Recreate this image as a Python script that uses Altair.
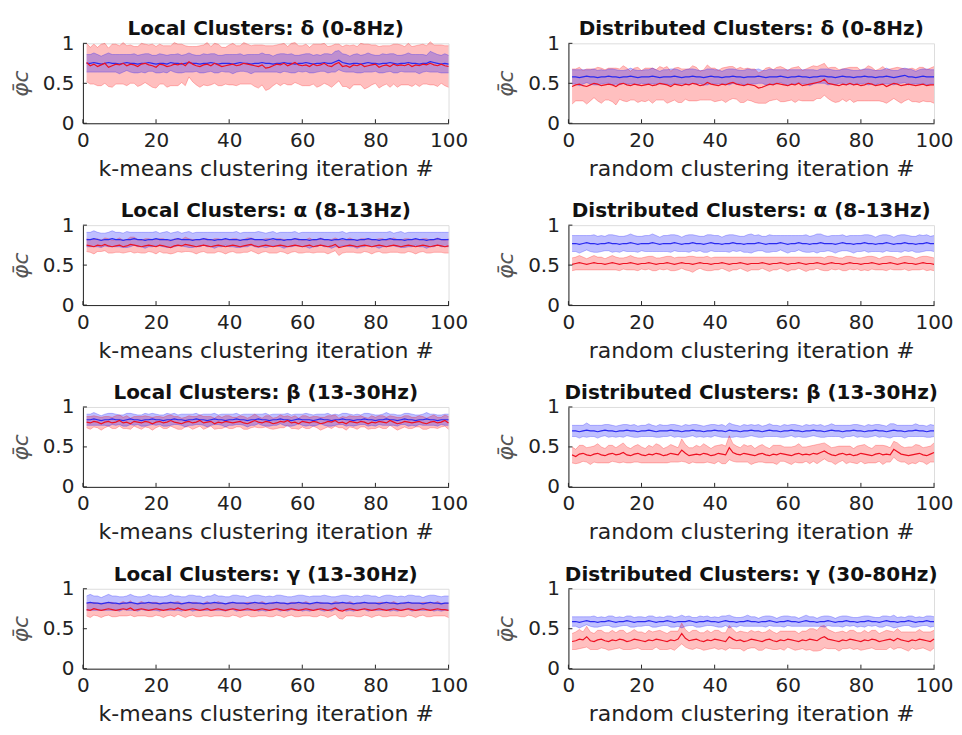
import altair as alt
import pandas as pd

FONT = "DejaVu Sans"
RED = "#ff0000"
BLUE = "#0000ff"
RED_LINE = "#ee1122"
BLUE_LINE = "#2a2af0"

iterations = list(range(1, 101))
x_ticks = [0, 20, 40, 60, 80, 100]
y_ticks = [0, 0.5, 1]

titles = [
    "Local Clusters: δ (0-8Hz)", "Distributed Clusters: δ (0-8Hz)",
    "Local Clusters: α (8-13Hz)", "Distributed Clusters: α (8-13Hz)",
    "Local Clusters: β (13-30Hz)", "Distributed Clusters: β (13-30Hz)",
    "Local Clusters: γ (13-30Hz)", "Distributed Clusters: γ (30-80Hz)",
]
x_titles = ["k-means clustering iteration #", "random clustering iteration #"]
y_title = "φ̄c"

# values in hundredths: mean (m) and standard deviation (s) per iteration
# ---- Local delta
red_m_ld = [76,72,74,71,73,75,70,72,74,73, 75,72,74,73,71,74,75,73,72,70, 74,73,71,72,74,73,75,72,77,74, 72,71,73,74,72,75,73,71,72,73, 74,72,73,75,74,73,72,71,73,69, 70,72,74,73,75,72,74,76,73,72, 73,71,74,72,73,75,72,71,74,76, 71,72,70,73,72,74,71,72,73,74, 70,72,73,71,74,72,73,72,74,71, 73,72,74,73,75,73,72,74,72,71]
red_s_ld = [24,23,25,24,26,25,24,27,25,24, 26,25,24,23,25,26,24,25,27,26, 25,24,26,25,27,26,24,25,19,22, 24,26,25,27,24,25,26,24,23,25, 26,25,24,26,25,24,26,27,25,28, 27,25,24,26,25,24,26,25,24,25, 26,24,25,27,26,25,24,26,25,23, 25,26,27,25,24,26,28,27,25,24, 26,25,24,26,25,27,25,24,26,25, 24,26,25,24,27,25,26,24,25,26]
blue_m_ld = [75,75,76,75,74,75,76,75,75,74, 75,76,75,75,74,75,75,76,75,74, 75,75,74,76,75,75,74,75,76,75, 75,74,75,75,76,75,74,75,75,75, 74,75,76,75,75,74,75,75,76,75, 75,74,75,75,76,75,75,74,75,75, 76,75,74,75,75,76,75,75,77,79, 76,75,74,75,75,74,75,76,75,75, 74,75,75,76,75,74,75,75,76,75, 75,74,75,75,77,76,75,74,75,74]
blue_s_ld = [11,11,12,11,10,11,12,11,11,12, 11,10,11,12,11,11,12,11,10,11, 12,11,11,10,11,12,11,11,12,11, 10,11,12,11,11,12,11,10,11,11, 12,11,11,10,11,12,11,11,12,11, 11,10,11,12,11,11,12,11,10,11, 11,12,11,11,10,11,12,11,13,12, 11,11,10,11,12,11,11,12,11,10, 11,12,11,11,12,11,10,11,12,11, 11,12,11,10,13,12,11,11,12,11]
# ---- Distributed delta
red_m_dd = [46,48,49,47,46,48,50,49,47,48, 49,48,46,49,50,48,47,49,48,47, 48,49,47,48,50,49,48,46,49,48, 47,49,48,50,49,47,48,51,49,48, 47,49,48,50,51,49,48,47,49,48, 47,44,45,47,49,48,50,49,48,47, 49,48,50,47,48,49,50,51,52,55, 50,49,48,47,49,48,50,48,49,47, 48,50,49,47,48,49,46,48,50,49, 47,48,49,48,47,48,49,47,48,48]
red_s_dd = [22,20,21,19,22,20,18,21,22,19, 20,21,23,19,22,21,18,20,22,19, 21,20,22,19,21,20,23,19,20,22, 21,19,20,22,21,18,19,22,20,21, 19,20,22,21,20,19,22,21,20,20, 21,19,20,22,21,19,20,22,21,19, 20,22,21,19,20,21,22,20,21,20, 19,21,22,20,19,21,20,22,21,19, 20,22,21,19,20,22,21,20,19,21, 22,20,19,21,20,22,21,20,21,23]
blue_m_dd = [58,58,57,58,59,58,58,57,58,58, 59,58,58,57,58,58,59,58,57,58, 58,58,59,58,57,58,58,58,59,58, 57,58,58,59,58,58,57,58,59,58, 58,57,58,58,59,58,58,57,58,58, 58,59,58,57,58,58,58,59,58,57, 58,58,59,58,58,57,58,58,59,59, 58,58,57,58,59,58,58,57,58,58, 59,58,58,57,58,58,59,58,57,58, 59,60,58,58,57,58,59,58,58,58]
blue_s_dd = [9,9,10,9,8,9,10,9,9,8, 9,10,9,9,8,9,10,9,9,8, 9,9,10,9,8,9,9,10,9,9, 8,9,10,9,9,8,9,10,9,9, 9,8,9,10,9,9,8,9,10,9, 9,9,8,9,10,9,9,8,9,10, 9,9,8,9,9,10,9,8,9,9, 10,9,9,8,9,10,9,9,8,9, 9,10,9,9,8,9,10,9,9,8, 9,9,10,9,8,9,9,10,9,9]
# ---- Local alpha
red_m_la = [75,74,73,75,74,76,74,73,74,75, 73,74,76,75,74,73,74,75,74,73, 75,74,73,72,74,75,74,76,75,74, 73,74,75,74,73,74,75,74,73,74, 75,74,73,74,75,76,74,73,74,75, 74,73,74,75,74,73,74,75,74,73, 74,75,73,74,75,74,73,74,76,72, 73,74,75,74,73,74,75,74,73,74, 75,74,73,74,75,74,73,74,75,74, 73,74,75,74,73,74,75,74,73,74]
red_s_la = [8,8,9,8,7,8,9,8,8,9, 8,8,9,10,8,8,9,8,8,9, 8,9,8,8,9,8,8,9,8,8, 9,8,8,9,8,9,8,8,9,8, 8,9,8,8,9,8,8,9,8,8, 9,8,9,8,8,9,8,8,9,8, 8,9,8,8,9,8,9,8,8,10, 8,8,9,8,8,9,8,8,9,8, 8,9,8,8,9,8,8,9,8,8, 9,8,8,9,8,8,9,8,8,9]
blue_m_la = [82,82,83,82,81,82,82,83,82,82, 81,82,82,83,82,82,81,82,82,83, 82,82,82,81,82,83,82,82,82,81, 82,82,83,82,82,81,82,82,83,82, 82,82,81,82,82,83,82,82,82,81, 82,83,82,82,81,82,82,83,82,82, 82,81,82,82,83,82,82,81,82,82, 83,82,82,82,81,82,82,83,82,82, 81,82,82,83,82,82,82,81,82,82, 83,82,82,81,82,82,83,82,82,82]
blue_s_la = [9,9,10,9,9,8,9,10,9,9, 9,10,9,8,9,9,10,9,9,9, 8,9,10,9,9,9,8,9,10,9, 9,9,8,9,9,10,9,9,8,9, 9,10,9,9,9,8,9,10,9,9, 9,9,8,9,10,9,9,9,8,9, 9,10,9,9,8,9,9,10,9,9, 9,8,9,9,10,9,9,8,9,9, 10,9,9,9,8,9,10,9,9,9, 8,9,9,10,9,9,8,9,9,9]
# ---- Distributed alpha
red_m_da = [51,52,53,52,51,52,53,52,52,51, 52,53,52,51,52,52,53,52,51,52, 52,53,52,51,52,52,53,52,51,52, 53,52,52,51,52,53,52,52,51,52, 52,53,52,51,52,52,53,52,51,52, 52,52,53,52,51,52,52,53,52,51, 52,52,53,52,51,52,52,53,52,51, 52,53,52,52,51,52,53,52,52,51, 52,52,53,52,51,52,52,53,52,51, 52,53,52,52,51,52,53,52,52,51]
red_s_da = [8,8,9,8,7,8,9,8,8,7, 8,9,8,8,7,8,9,8,8,7, 8,8,9,8,7,8,8,9,8,8, 7,8,9,10,8,7,8,9,8,8, 8,7,8,9,8,8,7,8,9,8, 8,8,7,8,9,8,8,7,8,9, 8,8,7,8,9,8,8,7,8,8, 9,8,8,7,8,9,8,8,7,8, 8,9,8,8,7,8,9,8,8,7, 8,8,9,8,7,8,8,9,8,8]
blue_m_da = [77,77,76,77,78,77,77,76,77,77, 78,77,77,76,77,77,78,77,76,77, 77,77,78,77,76,77,77,77,78,77, 76,77,77,78,77,77,76,77,78,77, 77,76,77,77,78,77,77,76,77,77, 77,78,77,76,77,77,77,78,77,76, 77,77,78,77,77,76,77,77,78,77, 77,77,76,77,78,77,77,76,77,77, 78,77,77,76,77,77,78,77,76,77, 77,78,77,77,76,77,77,78,77,77]
blue_s_da = [10,10,11,10,9,10,11,10,10,9, 10,11,10,10,9,10,11,10,10,9, 10,10,11,10,9,10,10,11,10,10, 9,10,11,10,10,9,10,11,10,10, 10,9,10,11,10,10,9,10,11,12, 10,10,9,10,11,10,10,9,10,11, 10,10,9,10,11,10,10,12,11,10, 9,10,11,10,10,9,10,11,10,10, 10,11,10,9,10,11,10,10,9,10, 11,10,10,9,10,11,10,10,9,10]
# ---- Local beta
red_m_lb = [81,80,82,81,79,81,82,80,81,83, 80,81,79,82,81,80,82,81,79,81, 82,80,81,83,81,80,79,81,82,80, 81,83,80,81,82,79,81,80,82,81, 80,81,82,80,79,81,83,81,80,82, 81,79,80,82,81,83,80,81,79,82, 81,80,82,81,79,80,82,81,83,80, 81,79,82,81,80,82,81,79,81,80, 82,81,80,83,81,79,80,82,81,80, 81,82,80,79,81,82,80,81,83,80]
red_s_lb = [7,8,7,7,8,7,6,7,8,7, 7,8,7,6,7,8,7,7,8,7, 6,7,8,7,7,8,7,6,7,8, 7,7,8,7,6,7,8,7,7,8, 7,6,7,8,7,7,8,7,6,7, 8,7,7,8,7,6,7,8,7,7, 8,7,6,7,8,7,7,8,7,6, 7,8,7,7,8,7,6,7,8,7, 7,8,7,6,7,8,7,7,8,7, 6,7,8,7,7,8,7,6,7,8]
blue_m_lb = [84,84,85,84,83,84,84,85,84,84, 83,84,85,84,84,83,84,84,85,84, 84,83,84,84,85,84,84,83,84,84, 85,84,84,83,84,85,84,84,83,84, 84,85,84,84,83,84,84,85,84,84, 83,84,84,85,84,84,83,84,85,84, 84,84,83,84,85,84,84,83,84,84, 85,84,84,83,84,84,85,84,84,83, 84,84,85,84,84,83,84,85,84,84, 83,84,84,85,84,84,83,84,84,84]
blue_s_lb = [7,7,8,7,6,7,8,7,7,6, 7,8,7,7,6,7,8,7,7,7, 6,7,8,7,7,6,7,8,7,7, 7,6,7,8,7,7,6,7,8,7, 7,7,6,7,8,7,7,6,7,8, 7,7,7,6,7,8,7,7,6,7, 8,7,7,7,6,7,8,7,7,6, 7,8,7,7,7,6,7,8,7,7, 6,7,8,7,7,7,6,7,8,7, 7,6,7,8,7,7,7,6,7,7]
# ---- Distributed beta
red_m_db = [40,38,41,42,40,39,41,42,40,39, 41,42,40,41,43,40,39,41,42,40, 39,41,40,42,41,39,40,42,41,40, 46,42,39,40,41,40,42,41,39,40, 42,41,40,49,43,41,40,42,41,40, 39,41,42,40,39,41,40,42,41,40, 39,41,42,40,41,40,42,41,43,45, 42,40,39,41,42,40,41,39,40,42, 41,40,39,41,42,40,41,40,47,44, 41,40,39,40,41,42,40,39,41,43]
red_s_db = [10,9,11,10,9,11,10,12,10,9, 11,10,9,11,12,10,9,10,11,10, 9,11,10,12,11,9,10,11,10,9, 14,11,10,9,11,10,12,10,9,11, 10,12,11,15,11,10,9,11,10,12, 9,10,11,10,9,11,12,10,9,10, 11,10,12,10,9,11,10,12,11,10, 10,9,11,10,9,11,10,9,11,10, 12,10,9,11,10,12,10,9,10,11, 10,9,11,10,12,10,9,11,10,12]
blue_m_db = [70,70,69,70,71,70,70,69,70,71, 70,70,69,70,70,71,70,70,69,70, 70,71,70,69,70,70,70,71,70,70, 69,70,70,71,70,70,69,70,70,71, 70,70,69,71,70,70,69,70,70,71, 70,70,69,70,71,70,70,69,70,70, 71,70,70,69,70,70,71,70,70,69, 70,71,70,70,69,70,70,71,70,70, 69,70,70,71,70,70,69,70,71,70, 70,69,70,70,71,70,70,69,70,70]
blue_s_db = [7,7,8,7,9,7,7,8,7,7, 8,7,7,7,8,7,7,8,7,7, 7,8,7,7,8,7,7,7,8,7, 7,8,7,7,8,7,7,7,8,7, 7,8,7,9,8,7,7,8,7,7, 7,8,7,7,8,7,7,7,8,7, 7,8,7,7,8,7,7,7,8,7, 7,8,7,7,8,7,7,7,8,7, 7,8,7,7,8,7,7,9,8,7, 7,8,7,7,8,7,7,7,8,7]
# ---- Local gamma
red_m_lg = [74,73,75,74,73,74,75,74,73,74, 75,74,76,73,74,75,74,73,74,75, 74,73,74,75,74,76,74,73,74,75, 74,73,74,75,73,74,75,74,73,74, 75,74,73,74,75,74,73,74,75,74, 73,74,75,74,73,74,75,74,73,74, 75,74,73,74,75,74,73,74,76,73, 72,74,75,74,73,74,75,74,73,74, 75,74,73,74,75,74,73,74,75,74, 73,74,75,74,73,74,75,74,74,73]
red_s_lg = [8,9,8,8,9,8,8,9,8,8, 9,8,9,8,8,9,8,8,9,8, 8,9,8,8,9,8,8,9,8,8, 9,8,8,9,8,8,9,8,8,9, 8,8,9,8,8,9,8,8,9,8, 8,9,8,8,9,8,8,9,8,8, 9,8,8,9,8,8,9,8,8,10, 10,8,9,8,8,9,8,8,9,8, 8,9,8,8,9,8,8,9,8,8, 9,8,8,9,8,8,9,8,8,9]
blue_m_lg = [82,83,82,82,81,82,83,82,82,81, 82,82,83,82,81,82,82,83,82,82, 81,82,82,83,82,82,81,82,83,82, 82,82,81,82,82,83,82,82,81,82, 83,82,82,82,81,82,83,82,82,81, 82,82,83,82,82,81,82,82,83,82, 82,81,82,83,82,82,82,81,82,82, 83,82,82,81,82,82,83,82,82,82, 81,82,83,82,82,81,82,82,83,82, 82,82,81,82,83,82,82,81,82,82]
blue_s_lg = [9,10,9,9,8,9,10,9,9,9, 8,9,10,9,9,8,9,10,9,9, 9,8,9,10,9,9,9,8,9,10, 9,9,8,9,9,10,9,9,9,8, 9,10,9,9,8,9,9,10,9,9, 9,8,9,10,9,9,8,9,9,10, 9,9,9,8,9,10,9,9,8,9, 9,10,9,9,9,8,9,10,9,9, 8,9,9,10,9,9,9,8,9,10, 9,9,8,9,9,10,9,9,9,9]
# ---- Distributed gamma
red_m_dg = [34,35,37,36,40,35,34,36,37,35, 34,36,35,37,36,34,35,37,36,35, 34,36,35,37,36,35,34,36,35,37, 44,38,35,36,37,35,34,36,35,37, 36,35,34,40,37,35,36,34,35,37, 36,35,34,36,37,35,34,36,35,37, 36,35,34,36,35,37,36,35,38,40, 37,36,35,34,36,35,37,36,35,34, 36,35,37,36,34,35,36,37,35,38, 36,35,34,36,35,37,36,35,34,37]
red_s_dg = [10,11,12,10,13,11,10,12,11,10, 11,12,10,11,12,10,11,12,10,11, 10,12,11,10,12,11,10,11,12,10, 13,11,10,12,11,10,11,12,10,11, 12,10,11,14,12,10,11,12,10,11, 10,12,11,10,12,11,10,11,12,10, 11,12,10,11,12,13,14,13,15,14, 12,11,10,12,11,10,11,12,10,11, 12,10,11,12,10,11,12,10,11,12, 10,11,12,10,11,12,10,11,12,11]
blue_m_dg = [59,59,58,59,60,59,59,58,59,59, 60,59,58,59,59,60,59,58,59,59, 59,60,59,58,59,59,60,59,58,59, 59,59,60,59,58,59,59,60,59,59, 58,59,60,59,59,58,59,59,60,59, 59,58,59,59,60,59,58,59,59,60, 59,59,58,59,60,59,59,58,59,59, 60,59,58,59,59,60,59,59,58,59, 59,60,59,59,58,59,60,59,59,58, 59,59,60,59,58,59,59,60,59,59]
blue_s_dg = [6,6,7,6,5,6,7,6,6,5, 6,7,6,6,5,6,7,6,6,6, 5,6,7,6,6,5,6,7,6,6, 8,6,6,5,6,7,6,6,5,6, 6,7,6,8,6,6,5,6,7,6, 6,5,6,7,6,6,5,6,7,6, 6,6,5,6,7,6,6,5,6,7, 6,6,5,6,7,6,6,5,6,6, 7,6,6,5,6,7,6,6,8,6, 6,5,6,7,6,6,5,6,7,6]

panel_data = [
    (red_m_ld, red_s_ld, blue_m_ld, blue_s_ld),
    (red_m_dd, red_s_dd, blue_m_dd, blue_s_dd),
    (red_m_la, red_s_la, blue_m_la, blue_s_la),
    (red_m_da, red_s_da, blue_m_da, blue_s_da),
    (red_m_lb, red_s_lb, blue_m_lb, blue_s_lb),
    (red_m_db, red_s_db, blue_m_db, blue_s_db),
    (red_m_lg, red_s_lg, blue_m_lg, blue_s_lg),
    (red_m_dg, red_s_dg, blue_m_dg, blue_s_dg),
]

W, H = 366, 80
AX = "#262626"


def make_panel(idx):
    rm, rs, bm, bs = panel_data[idx]
    df = pd.DataFrame({
        "it": iterations,
        "rm": [v / 100 for v in rm],
        "rlo": [(m - s) / 100 for m, s in zip(rm, rs)],
        "rhi": [(m + s) / 100 for m, s in zip(rm, rs)],
        "bm": [v / 100 for v in bm],
        "blo": [(m - s) / 100 for m, s in zip(bm, bs)],
        "bhi": [(m + s) / 100 for m, s in zip(bm, bs)],
    })
    xs = alt.Scale(domain=[0, 100], nice=False, zero=False)
    ys = alt.Scale(domain=[0, 1], nice=False)
    xaxis = alt.Axis(values=x_ticks, title=x_titles[idx % 2], grid=False, ticks=False,
                     labelFlush=False, labelPadding=7, titlePadding=8,
                     domainColor=AX, labelColor="#222222", titleColor="#222222",
                     labelFontSize=20, titleFontSize=22, titleFontWeight="normal",
                     labelFont=FONT, titleFont=FONT)
    yaxis = alt.Axis(values=y_ticks, title=y_title, grid=False, ticks=False, format="~g",
                     labelPadding=9, titlePadding=10, domainColor=AX,
                     labelColor="#222222", titleColor="#555555",
                     labelFontSize=20, titleFontSize=22, titleFontWeight="normal",
                     titleFontStyle="italic", labelFont=FONT, titleFont=FONT)

    def X(field):
        return alt.X(f"{field}:Q", scale=xs, axis=xaxis)

    def Y(field):
        return alt.Y(f"{field}:Q", scale=ys, axis=yaxis)

    base = alt.Chart(df)
    red_band = base.mark_area(color=RED, opacity=0.25).encode(x=X("it"), y=Y("rlo"), y2="rhi:Q")
    blue_band = base.mark_area(color=BLUE, opacity=0.25).encode(x=X("it"), y=Y("blo"), y2="bhi:Q")
    edges = []
    for col, f in [(RED, "rlo"), (RED, "rhi"), (BLUE, "blo"), (BLUE, "bhi")]:
        edges.append(base.mark_line(color=col, opacity=0.25, strokeWidth=1).encode(x=X("it"), y=Y(f)))
    blue_line = base.mark_line(color=BLUE_LINE, strokeWidth=1.2).encode(x=X("it"), y=Y("bm"))
    red_line = base.mark_line(color=RED_LINE, strokeWidth=1.2).encode(x=X("it"), y=Y("rm"))

    xt = alt.Chart(pd.DataFrame({"t": x_ticks})).mark_rule(color=AX, strokeWidth=1).encode(
        x=X("t"), y=alt.value(H), y2=alt.value(H - 4))
    yt = alt.Chart(pd.DataFrame({"t": y_ticks})).mark_rule(color=AX, strokeWidth=1).encode(
        y=Y("t"), x=alt.value(0), x2=alt.value(4))

    return alt.layer(red_band, blue_band, *edges, blue_line, red_line, xt, yt).properties(
        width=W, height=H,
        title=alt.TitleParams(titles[idx], fontSize=20, fontWeight="bold", font=FONT,
                              color="#111111", frame="group", anchor="middle", offset=-6),
    )


rows = []
for r in range(4):
    rows.append(alt.hconcat(make_panel(2 * r), make_panel(2 * r + 1), spacing=25))

chart = alt.vconcat(*rows, spacing=20).configure_view(strokeOpacity=0).configure(
    background="white", padding={"left": 0, "top": 10, "right": 0, "bottom": 0})

chart.save("out.html", embed_options={"renderer": "svg", "actions": False})
